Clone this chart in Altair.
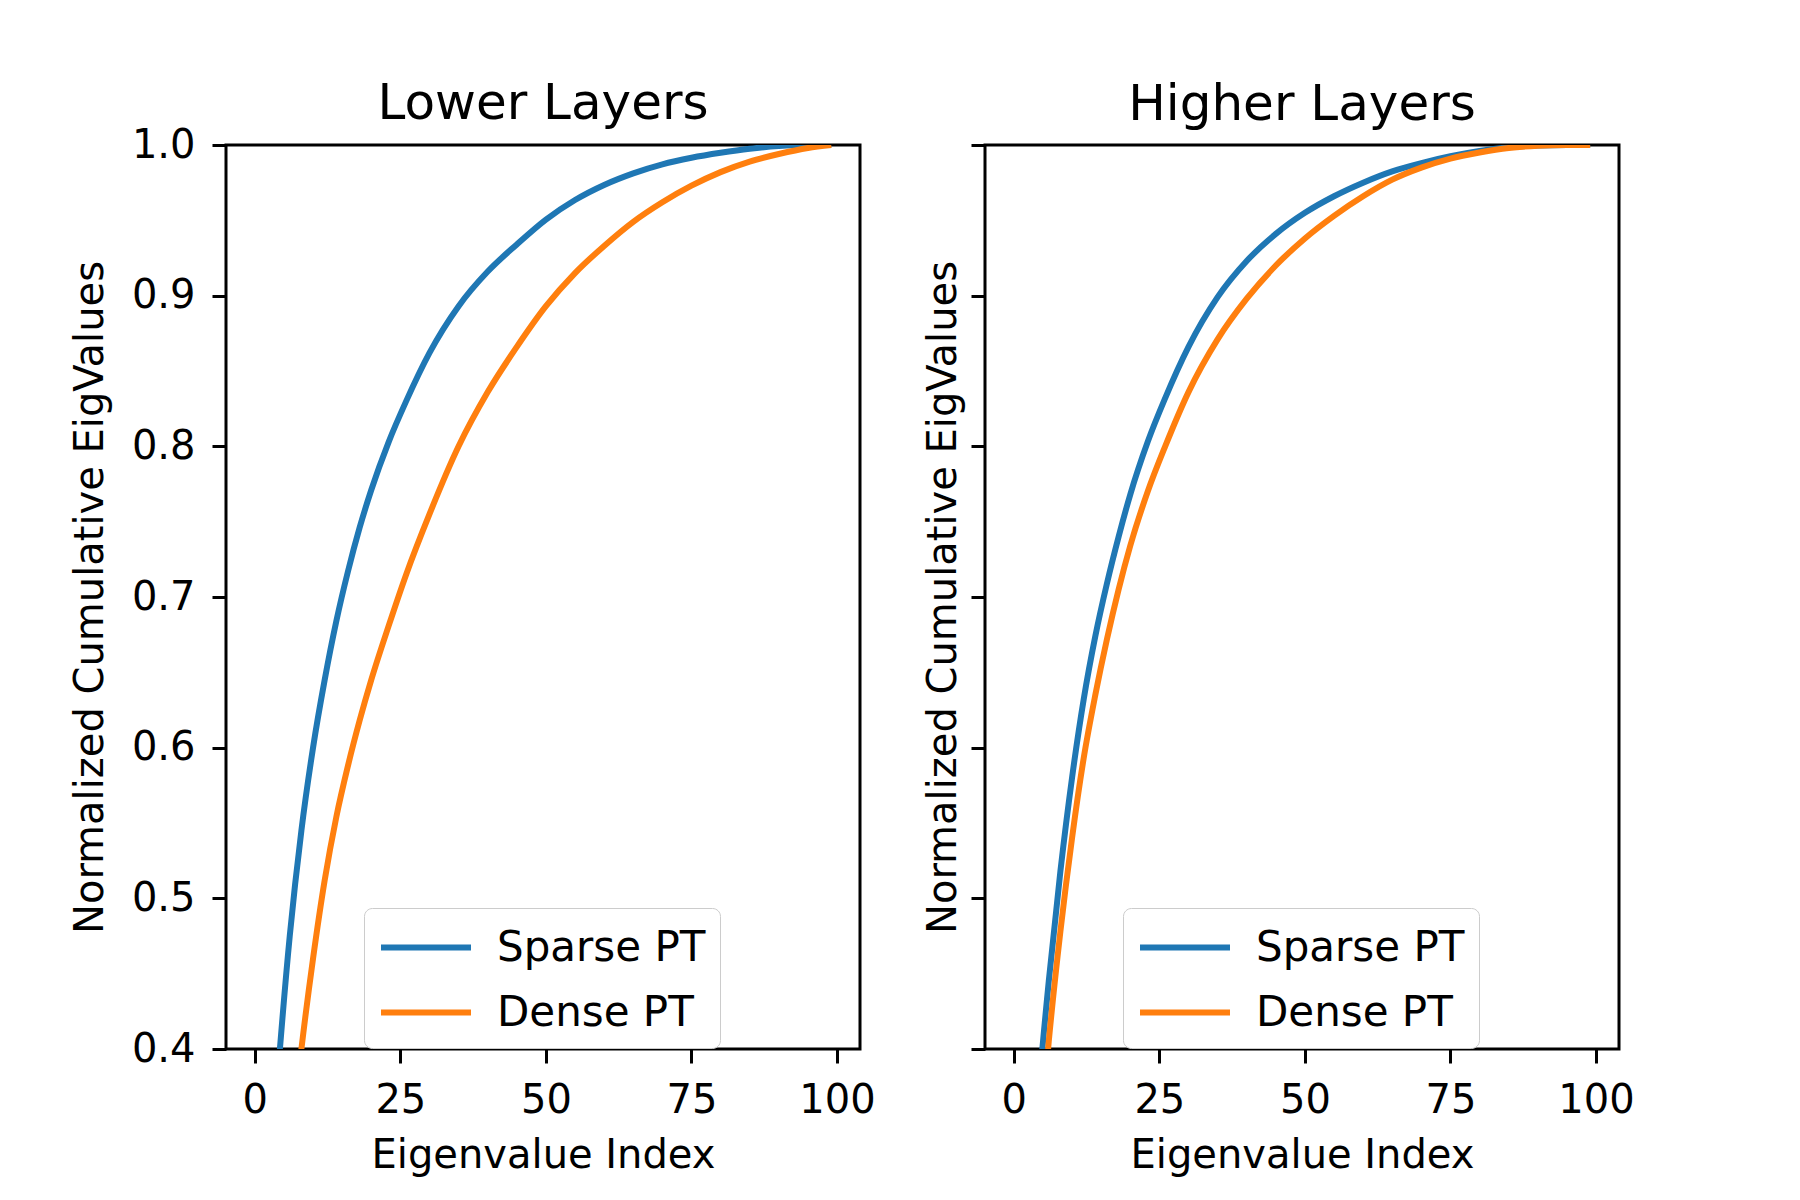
import altair as alt
import pandas as pd

# Eigenvalue index positions
index = [0, 2, 4, 6, 8, 10, 12, 14, 16, 18, 20, 23, 26, 30, 35, 40, 45, 50,
         55, 60, 65, 70, 75, 80, 85, 90, 95, 99]

lower_sparse = [0.17, 0.28, 0.385, 0.475, 0.545, 0.600, 0.645, 0.684, 0.717,
                0.746, 0.771, 0.803, 0.83, 0.862, 0.893, 0.916, 0.934, 0.9505,
                0.9635, 0.9735, 0.9812, 0.9872, 0.9915, 0.9948, 0.9975, 0.9993,
                1.0, 1.0]
lower_dense = [0.07, 0.16, 0.245, 0.33, 0.40, 0.46, 0.512, 0.554, 0.588, 0.618,
               0.645, 0.681, 0.715, 0.755, 0.80, 0.836, 0.866, 0.893, 0.915,
               0.933, 0.949, 0.962, 0.973, 0.982, 0.989, 0.994, 0.998, 1.0]
higher_sparse = [0.15, 0.255, 0.36, 0.445, 0.518, 0.58, 0.632, 0.674, 0.709,
                 0.74, 0.768, 0.803, 0.832, 0.866, 0.899, 0.923, 0.941, 0.955,
                 0.966, 0.975, 0.9825, 0.988, 0.9925, 0.996, 0.9985, 0.9997,
                 1.0, 1.0]
higher_dense = [0.11, 0.215, 0.315, 0.405, 0.478, 0.54, 0.593, 0.635, 0.672,
                0.705, 0.734, 0.77, 0.80, 0.836, 0.871, 0.898, 0.92, 0.938,
                0.953, 0.966, 0.977, 0.985, 0.991, 0.995, 0.998, 0.9995, 1.0,
                1.0]

series_names = ["Sparse PT", "Dense PT"]
series_colors = ["#1f77b4", "#ff7f0e"]
panel_titles = ["Lower Layers", "Higher Layers"]
x_ticks = [0, 25, 50, 75, 100]
y_ticks = [0.4, 0.5, 0.6, 0.7, 0.8, 0.9, 1.0]

FONT = "DejaVu Sans"


def panel_df(sparse, dense):
    rows = []
    for name, vals in zip(series_names, [sparse, dense]):
        for i, v in zip(index, vals):
            rows.append({"idx": i, "val": v, "series": name})
    return pd.DataFrame(rows)


def panel(df, title, show_labels, y_title_pad, title_dy):
    color = alt.Color(
        "series:N",
        scale=alt.Scale(domain=series_names, range=series_colors),
        legend=alt.Legend(
            title=None, orient="none", legendX=138, legendY=763,
            symbolType="M-1,0L3,0", symbolSize=2025, symbolStrokeWidth=6,
            labelFontSize=42, labelFont=FONT, labelColor="black",
            labelOffset=68, labelLimit=500, rowPadding=18, padding=14,
            fillColor="white", strokeColor="#cccccc", cornerRadius=8,
        ),
    )
    x = alt.X(
        "idx:Q",
        scale=alt.Scale(domain=[-4.95, 103.95], nice=False, zero=False),
        axis=alt.Axis(
            values=x_ticks, title="Eigenvalue Index", grid=False, domain=False,
            tickSize=14, tickWidth=3, tickColor="black", labelPadding=17,
            titlePadding=15, labelFontSize=40, titleFontSize=40,
            labelFont=FONT, titleFont=FONT, titleFontWeight="normal",
            labelColor="black", titleColor="black", labelFlush=False,
            labelOverlap=False,
        ),
    )
    y = alt.Y(
        "val:Q",
        scale=alt.Scale(domain=[0.4, 1.0], nice=False, zero=False),
        axis=alt.Axis(
            values=y_ticks, format=".1f", labels=show_labels,
            title="Normalized Cumulative EigValues", grid=False, domain=False,
            tickSize=14, tickWidth=3, tickColor="black", labelPadding=17,
            titlePadding=y_title_pad, labelFontSize=40, titleFontSize=40,
            labelFont=FONT, titleFont=FONT, titleFontWeight="normal",
            labelColor="black", titleColor="black", labelFlush=False,
            labelOverlap=False,
        ),
    )
    return (
        alt.Chart(df)
        .mark_line(clip=True, strokeWidth=6, interpolate="monotone")
        .encode(x=x, y=y, color=color, order="idx:Q")
        .properties(
            width=634, height=904,
            title=alt.TitleParams(
                title, fontSize=50, font=FONT, fontWeight="normal",
                color="black", offset=14, frame="group", dy=title_dy,
            ),
        )
    )


left = panel(panel_df(lower_sparse, lower_dense), panel_titles[0], True, 21, 18)
right = panel(panel_df(higher_sparse, higher_dense), panel_titles[1], False, 6, 0)

chart = (
    alt.hconcat(left, right, spacing=45)
    .resolve_legend(color="independent")
    .properties(padding={"left": 60, "top": 69, "right": 5, "bottom": 5},
                background="white")
    .configure(font=FONT)
    .configure_view(stroke="black", strokeWidth=3)
)

chart.save("out.html", embed_options={"renderer": "svg", "actions": False})
